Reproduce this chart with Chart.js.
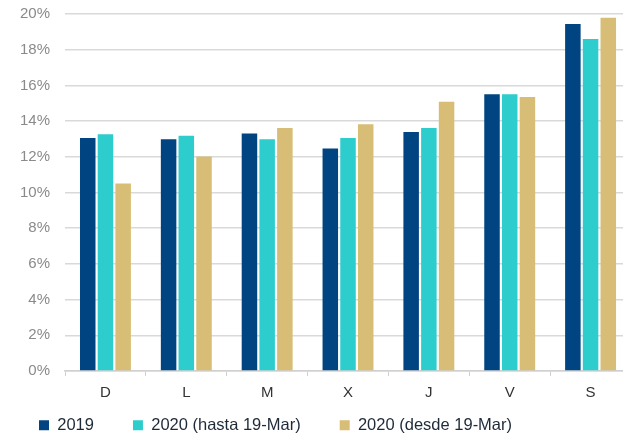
<!DOCTYPE html>
<html>
<head>
<meta charset="utf-8">
<script src="https://cdn.jsdelivr.net/npm/chart.js@4/dist/chart.umd.min.js"></script>
<style>
  html, body { margin: 0; padding: 0; background: #fff; overflow: hidden; }
  #wrap { width: 632px; height: 443px; position: relative; top: -10px; }
</style>
</head>
<body>
<div id="wrap"><canvas id="myChart"></canvas></div>
<script>
// dias de la semana
const dias = ["D", "L", "M", "X", "J", "V", "S"];
const serie2019 = [13.05, 12.98, 13.31, 12.47, 13.39, 15.51, 19.44];
const serieHasta = [13.26, 13.18, 12.98, 13.05, 13.61, 15.51, 18.60];
const serieDesde = [10.50, 12.02, 13.61, 13.82, 15.09, 15.35, 19.79];
const yTicks = [0, 2, 4, 6, 8, 10, 12, 14, 16, 18, 20];

// leyenda mas baja y pegada a la izquierda, sin el hueco vertical del padding
const legendFix = {
  id: "legendFix",
  afterInit(chart) {
    const lg = chart.legend;
    const fit = lg.fit.bind(lg);
    const draw = lg.draw.bind(lg);
    lg.fit = function() { fit(); this.height = 23; };
    lg.draw = function() {
      const t = this.top, l = this.left;
      this.top = t - 32;
      this.left = l - 5;
      draw();
      this.top = t;
      this.left = l;
    };
  }
};

let ch = document.getElementById("myChart");
new Chart(ch, {
  type: "bar",
  data: {
    labels: dias,
    datasets: [
      { label: "2019", data: serie2019, backgroundColor: "#004581" },
      { label: "2020 (hasta 19-Mar)", data: serieHasta, backgroundColor: "#2ECDCD" },
      { label: "2020 (desde 19-Mar)", data: serieDesde, backgroundColor: "#D8BD76" }
    ]
  },
  options: {
    responsive: true,
    maintainAspectRatio: false,
    animation: false,
    datasets: { bar: { categoryPercentage: 0.657, barPercentage: 0.876 } },
    layout: { padding: { left: 5, right: 1, top: 0, bottom: 0 } },
    plugins: {
      tooltip: { enabled: false },
      legend: {
        position: "bottom",
        align: "start",
        labels: {
          boxWidth: 10,
          boxHeight: 10,
          padding: 39,
          color: "#1e2a38",
          font: { family: "Liberation Sans, Arial, sans-serif", size: 16.5 }
        }
      }
    },
    scales: {
      x: {
        grid: { drawOnChartArea: false, drawTicks: true, tickLength: 5, color: "#d0d0d0", lineWidth: 1 },
        border: { color: "#d0d0d0", width: 1.5 },
        ticks: { color: "#333", padding: 8, font: { family: "Liberation Sans, Arial, sans-serif", size: 15 } }
      },
      y: {
        min: 0,
        max: 20,
        afterBuildTicks: (axis) => { axis.ticks = yTicks.map(v => ({ value: v })); },
        grid: { color: "#d9d9d9", lineWidth: 1.5, drawTicks: false },
        border: { display: false },
        ticks: {
          color: "#8a8a8a",
          padding: 15,
          font: { family: "Liberation Sans, Arial, sans-serif", size: 15 },
          callback: (v) => v + "%"
        }
      }
    }
  },
  plugins: [legendFix]
});
</script>
</body>
</html>
